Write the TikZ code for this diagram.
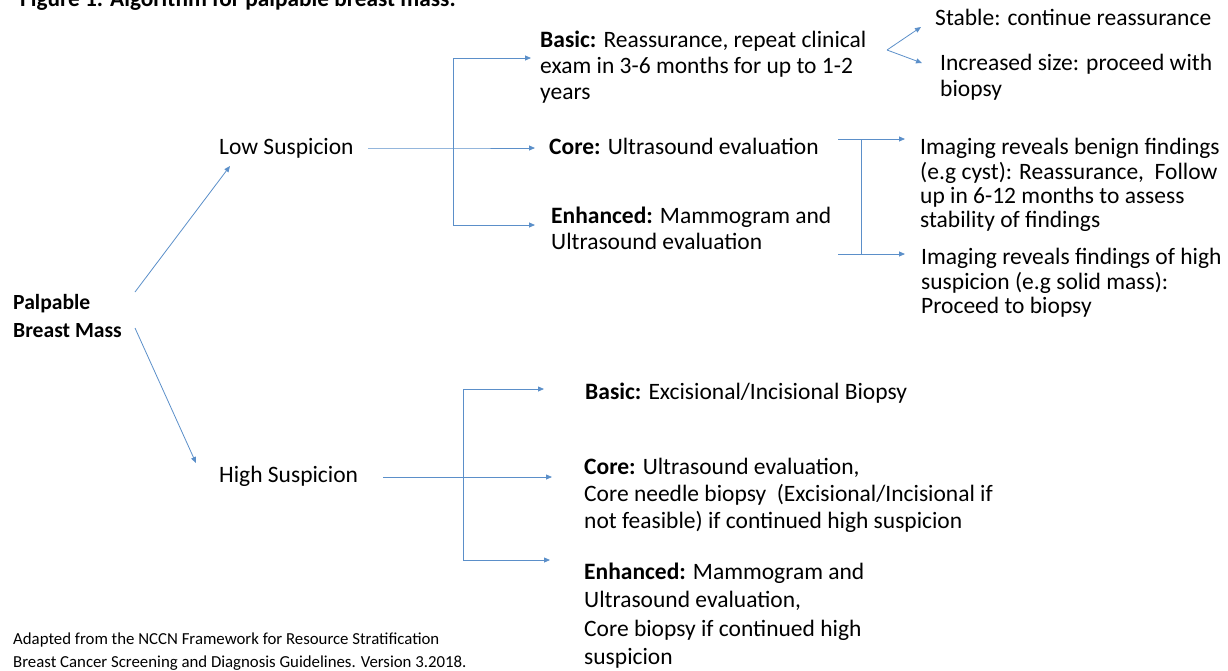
\documentclass[tikz,border=0pt]{standalone}
\usepackage{fontspec}
\setmainfont{Carlito}
\usetikzlibrary{arrows.meta}
\definecolor{linkblue}{HTML}{5B8FC9}
\tikzset{
  txt/.style={anchor=north west, inner sep=0pt, align=left, text=black},
  body/.style={txt, font=\fontsize{23.5}{26}\selectfont},
  conn/.style={draw=linkblue, line width=0.8pt},
  arr/.style={conn, -{Triangle[length=6pt,width=5pt]}},
}
\begin{document}
\begin{tikzpicture}[x=1pt,y=-1pt]
\clip (0,0) rectangle (1228,670);
\useasboundingbox (0,0) rectangle (1228,670);

% title, running off the top edge
\node[txt, font=\fontsize{23.3}{28}\selectfont\bfseries] (title) at (20,-13.6)
  {\strut Figure 1. Algorithm for palpable breast mass.};

% root and the two suspicion levels
\node[txt, font=\fontsize{21.6}{28}\selectfont\bfseries] (mass) at (13,289.4)
  {\strut Palpable\\Breast Mass};
\node[body, font=\fontsize{23.5}{27}\selectfont] (low) at (219,135.1) {\strut Low Suspicion};
\node[body, font=\fontsize{23.5}{27}\selectfont] (high) at (219,463.1) {\strut High Suspicion};

% low suspicion options
\node[body] (lbasic) at (540,28.8)
  {\strut\textbf{Basic:} Reassurance, repeat clinical\\exam in 3-6 months for up to 1-2\\years};
\node[body] (lcore) at (549,135.8) {\strut\textbf{Core:} Ultrasound evaluation};
\node[body] (lenh) at (551,204.8)
  {\strut\textbf{Enhanced:} Mammogram and\\Ultrasound evaluation};

% follow-up outcomes
\node[body] (stable) at (935,6.8) {\strut Stable: continue reassurance};
\node[body] (incr) at (940,51.8) {\strut Increased size: proceed with\\biopsy};
\node[txt, font=\fontsize{23.5}{24}\selectfont] (benign) at (920,137.2)
  {\strut Imaging reveals benign findings\\(e.g cyst): Reassurance,~ Follow\\up in 6-12 months to assess\\stability of findings};
\node[txt, font=\fontsize{23.5}{24}\selectfont] (susp) at (921,247.2)
  {\strut Imaging reveals findings of high\\suspicion (e.g solid mass):\\Proceed to biopsy};

% high suspicion options
\node[txt, font=\fontsize{23.5}{27}\selectfont] (hbasic) at (585,380.1)
  {\strut\textbf{Basic:} Excisional/Incisional Biopsy};
\node[txt, font=\fontsize{23.5}{27}\selectfont] (hcore) at (584,455.1)
  {\strut\textbf{Core:} Ultrasound evaluation,\\Core needle biopsy~ (Excisional/Incisional if\\not feasible) if continued high suspicion};
\node[txt, font=\fontsize{23.5}{28.5}\selectfont] (henh) at (584,559)
  {\strut\textbf{Enhanced:} Mammogram and\\Ultrasound evaluation,\\Core biopsy if continued high\\suspicion};

% source note
\node[txt, font=\fontsize{16.8}{23}\selectfont] (note) at (13,627.9)
  {\strut Adapted from the NCCN Framework for Resource Stratification\\Breast Cancer Screening and Diagnosis Guidelines. Version 3.2018.};

% connector end points
\coordinate (m1) at (135,292);
\coordinate (m2) at (135,328);
\coordinate (lowin) at (230,166);
\coordinate (highin) at (196,463);
\coordinate (lowout) at (368,148);
\coordinate (lj) at (453,148);
\coordinate (ljt) at (453,58);
\coordinate (ljb) at (453,225);
\coordinate (lbin) at (531,58);
\coordinate (lcin) at (535,148);
\coordinate (lein) at (535,225);
\coordinate (v) at (887,50);
\coordinate (vin1) at (921,27);
\coordinate (vin2) at (922,63);
\coordinate (bt) at (838,139);
\coordinate (bb) at (838,254);
\coordinate (bjt) at (861,139);
\coordinate (bjb) at (861,254);
\coordinate (btin) at (905,139);
\coordinate (bbin) at (905,254);
\coordinate (highout) at (383,477);
\coordinate (hj) at (463,477);
\coordinate (hjt) at (463,389);
\coordinate (hjb) at (463,560);
\coordinate (hbin) at (544,389);
\coordinate (hcin) at (552,477);
\coordinate (hein) at (550,560);

% root to suspicion levels
\draw[arr] (m1) -- (lowin);
\draw[arr] (m2) -- (highin);

% low suspicion fan-out
\draw[arr] (lowout) -- (lj) -- (lcin);
\draw[conn] (ljt) -- (ljb);
\draw[arr] (ljt) -- (lbin);
\draw[arr] (ljb) -- (lein);

% basic follow-up
\draw[arr] (v) -- (vin1);
\draw[arr] (v) -- (vin2);

% imaging results bracket
\draw[arr] (bt) -- (btin);
\draw[arr] (bb) -- (bbin);
\draw[conn] (bjt) -- (bjb);

% high suspicion fan-out
\draw[arr] (highout) -- (hj) -- (hcin);
\draw[conn] (hjt) -- (hjb);
\draw[arr] (hjt) -- (hbin);
\draw[arr] (hjb) -- (hein);
\end{tikzpicture}
\end{document}
